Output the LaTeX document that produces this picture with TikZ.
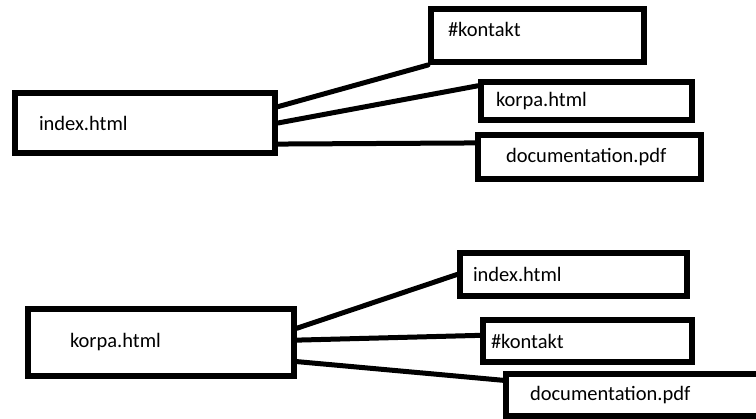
\documentclass[tikz,border=0pt]{standalone}
\usepackage{fontspec}
\setmainfont{Carlito}
\begin{document}
\begin{tikzpicture}[x=1pt,y=-1pt,
  filebox/.style={draw=black, line width=6pt, rectangle, align=left,
    inner ysep=0pt, font=\fontsize{20.5}{24}\selectfont, text=black},
  link/.style={draw=black, line width=5pt, line cap=round}]
\clip (0,0) rectangle (756,419);
\fill[white] (0,0) rectangle (756,419);
% top group
\node[filebox, text width=212pt, inner xsep=24pt, minimum height=60pt] (i1) at (145,123) {index.html};
\node[filebox, text width=179pt, inner xsep=17pt, minimum height=53pt] (k1) at (537.5,35.5) {\#kontakt\vphantom{pg}\\[-12pt]\mbox{}};
\node[filebox, text width=181pt, inner xsep=15pt, minimum height=38pt] (p1) at (586.5,101) {korpa.html};
\node[filebox, text width=167pt, inner xsep=28pt, minimum height=44pt] (d1) at (589.5,157) {documentation.pdf};
\draw[link] (i1.7.5) -- (k1.south west);
\draw[link] (i1.east) -- (p1.172);
\draw[link] (i1.-9.6) -- (d1.173.4);
% bottom group
\node[filebox, text width=182pt, inner xsep=42pt, minimum height=67pt] (p2) at (161,342.5) {korpa.html};
\node[filebox, text width=201pt, inner xsep=13pt, minimum height=43pt] (i2) at (573.5,274.5) {index.html};
\node[filebox, text width=193pt, inner xsep=8pt, minimum height=42pt] (k2) at (587.5,341) {\#kontakt};
\node[filebox, text width=226pt, inner xsep=24pt, minimum height=42pt] (d2) at (643,395) {documentation.pdf};
\draw[link] (p2.6.6) -- (i2.west);
\draw[link] (p2.1.5) -- (k2.177.3);
\draw[link] (p2.-8.6) -- (d2.174);
\end{tikzpicture}
\end{document}
